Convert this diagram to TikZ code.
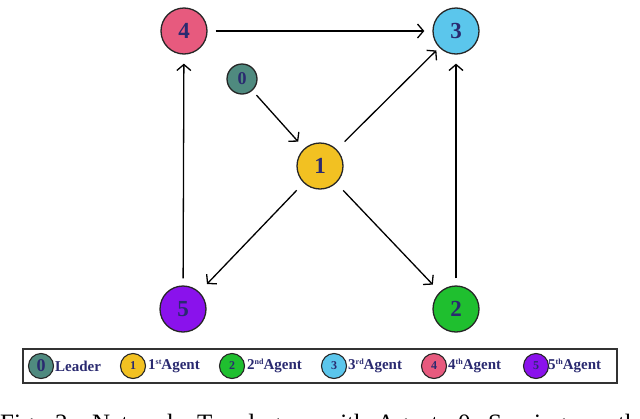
\documentclass[tikz,border=0pt]{standalone}
\usepackage{fontspec}
\setmainfont{Liberation Serif}
\usetikzlibrary{arrows.meta}
\definecolor{navy}{HTML}{2A2A70}
\definecolor{czero}{HTML}{4F8A7F}
\definecolor{cone}{HTML}{F2C122}
\definecolor{ctwo}{HTML}{1FBF2F}
\definecolor{cthree}{HTML}{5BC6EC}
\definecolor{cfour}{HTML}{E75A7E}
\definecolor{cfive}{HTML}{8A12EC}
\newcommand{\ordsup}[1]{\raisebox{5pt}{\fontsize{8}{8}\selectfont #1}}
\begin{document}
\begin{tikzpicture}[x=1pt,y=-1pt,
  agent/.style={circle,draw=black!85,line width=1.3pt,minimum size=46pt,inner sep=0pt,
    font=\fontsize{23}{23}\selectfont\bfseries,text=navy},
  link/.style={line width=1.3pt,-{Straight Barb[length=6pt,width=14pt]},shorten >=8pt,shorten <=8pt},
  legc/.style={circle,draw=black!85,line width=1.1pt,minimum size=25pt,inner sep=0pt,
    font=\fontsize{12}{12}\selectfont\bfseries,text=navy},
  legt/.style={anchor=west,inner sep=0pt,font=\fontsize{15}{15}\selectfont\bfseries,text=navy},
  capw/.style={anchor=base west,inner sep=0pt,font=\fontsize{25}{25}\selectfont}]
\useasboundingbox (0,0) rectangle (640,418);
\clip (0,0) rectangle (640,418);
% network
\node[agent,fill=cfour] (n4) at (184,31) {4};
\node[agent,fill=cthree] (n3) at (456,31) {3};
\node[agent,fill=czero,minimum size=30pt,font=\fontsize{18}{18}\selectfont\bfseries] (n0) at (242,79) {0};
\node[agent,fill=cone] (n1) at (320,166) {1};
\node[agent,fill=cfive] (n5) at (183,309) {5};
\node[agent,fill=ctwo] (n2) at (456,309) {2};
\draw[link] (n4) -- (n3);
\draw[link,shorten <=6pt,shorten >=9pt] (n0) -- (n1);
\draw[link,shorten <=11pt,shorten >=4pt] (n1) -- (n3);
\draw[link,shorten <=10pt,shorten >=11pt] (n1) -- (n5);
\draw[link,shorten <=10pt,shorten >=10pt] (n1) -- (n2);
\draw[link,shorten <=7pt,shorten >=9pt] (n5) -- (n4);
\draw[link,shorten <=7pt,shorten >=9pt] (n2) -- (n3);
% legend
\draw[line width=2pt,draw=black!80] (23,349) rectangle (617,383);
\node[legc,fill=czero,font=\fontsize{18}{18}\selectfont\bfseries] (l0) at (41,366) {0};
\node[legt] (t0) at (55,366) {Leader};
\node[legc,fill=cone] (l1) at (133,366) {1};
\node[legt] (t1) at (148,366) {1\ordsup{st}Agent};
\node[legc,fill=ctwo] (l2) at (232,366) {2};
\node[legt] (t2) at (247,366) {2\ordsup{nd}Agent};
\node[legc,fill=cthree] (l3) at (334,366) {3};
\node[legt] (t3) at (348,366) {3\ordsup{rd}Agent};
\node[legc,fill=cfour] (l4) at (434,366) {4};
\node[legt] (t4) at (448,366) {4\ordsup{th}Agent};
\node[legc,fill=cfive] (l5) at (536,366) {5};
\node[legt] (t5) at (548,366) {5\ordsup{th}Agent};
% caption (cut off at the bottom edge, as in the reference)
\node[capw] (w1) at (0,431) {Fig.};
\node[capw] (w2) at (55,431) {2:};
\node[capw] (w3) at (92,431) {Network};
\node[capw] (w4) at (197,431) {Topology};
\node[capw] (w5) at (322,431) {with};
\node[capw] (w6) at (377,431) {Agent};
\node[capw] (w7) at (458,431) {0};
\node[capw] (w8) at (488,431) {Serving};
\node[capw] (w9) at (583,431) {as};
\node[capw] (w10) at (618,431) {the};
\end{tikzpicture}
\end{document}
